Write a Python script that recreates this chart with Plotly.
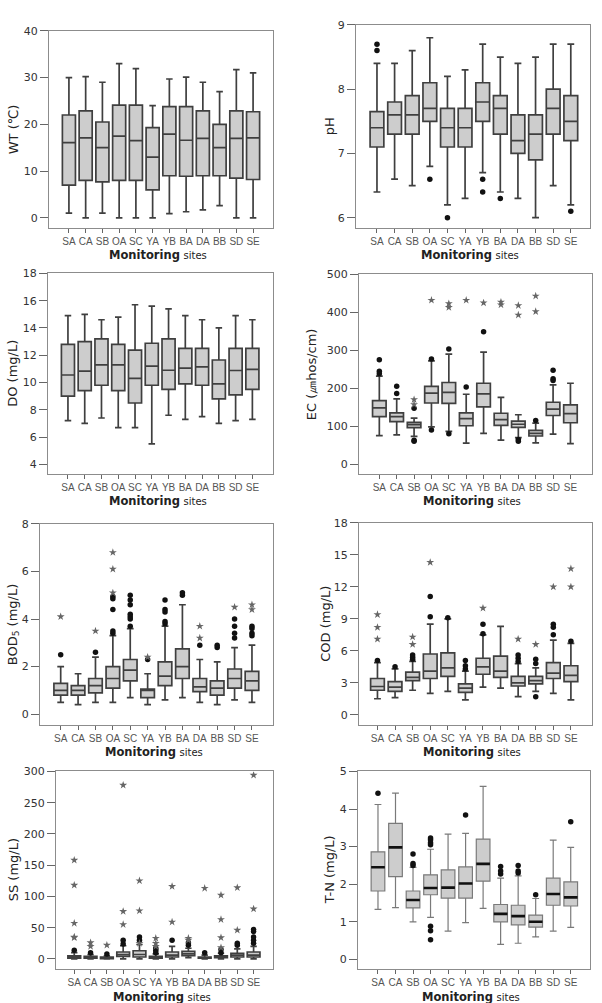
import plotly.graph_objects as go

sites = ["SA", "CA", "SB", "OA", "SC", "YA", "YB", "BA", "DA", "BB", "SD", "SE"]

# ---------------- WT ----------------
wt_low = [1.0, 0.0, 1.0, 0.0, 0.0, 0.0, 0.9, 1.3, 1.7, 2.6, 0.0, 0.0]
wt_q1 = [7.0, 8.0, 7.7, 8.0, 8.0, 6.0, 9.0, 8.9, 9.0, 9.0, 8.5, 8.2]
wt_med = [16.1, 17.1, 15.0, 17.5, 16.5, 13.0, 17.9, 16.6, 17.0, 15.0, 17.0, 17.1]
wt_q3 = [22.0, 22.9, 20.5, 24.1, 24.1, 19.3, 23.8, 23.8, 22.9, 20.0, 22.9, 22.7]
wt_up = [30.0, 30.2, 29.0, 33.0, 31.9, 24.0, 29.7, 30.1, 29.0, 27.0, 31.7, 31.0]
wt_dots = [[] for _ in sites]
wt_stars = [[] for _ in sites]

# ---------------- pH ----------------
ph_low = [6.4, 6.6, 6.5, 6.8, 6.2, 6.3, 6.7, 6.4, 6.3, 6.0, 6.5, 6.2]
ph_q1 = [7.1, 7.3, 7.3, 7.5, 7.1, 7.1, 7.5, 7.3, 7.0, 6.9, 7.3, 7.2]
ph_med = [7.4, 7.6, 7.6, 7.7, 7.4, 7.4, 7.8, 7.7, 7.2, 7.3, 7.7, 7.5]
ph_q3 = [7.65, 7.8, 7.9, 8.1, 7.7, 7.7, 8.1, 7.9, 7.6, 7.6, 8.0, 7.9]
ph_up = [8.4, 8.4, 8.6, 8.8, 8.2, 8.3, 8.7, 8.5, 8.4, 8.5, 8.7, 8.7]
ph_dots = [[8.7, 8.6], [], [], [6.6], [6.0], [], [6.6, 6.4], [6.3], [], [], [], [6.1]]
ph_stars = [[] for _ in sites]

# ---------------- DO ----------------
do_low = [7.2, 7.0, 7.4, 6.7, 6.7, 5.5, 7.6, 7.3, 7.5, 7.0, 7.2, 7.3]
do_q1 = [9.0, 9.4, 9.8, 9.4, 8.5, 9.8, 9.5, 9.9, 9.8, 8.8, 9.1, 9.5]
do_med = [10.55, 10.83, 11.3, 11.3, 10.3, 11.2, 10.9, 11.05, 11.14, 9.9, 10.88, 10.97]
do_q3 = [12.8, 13.0, 13.2, 12.8, 12.37, 12.88, 13.2, 12.5, 12.5, 11.65, 12.5, 12.5]
do_up = [14.9, 15.0, 14.6, 14.8, 15.7, 15.6, 15.4, 14.9, 14.6, 14.0, 14.9, 14.6]
do_dots = [[] for _ in sites]
do_stars = [[] for _ in sites]

# ---------------- EC ----------------
ec_low = [75, 77, 73, 98, 86, 55, 81, 63, 70, 56, 79, 54]
ec_q1 = [125, 112, 96, 161, 160, 101, 151, 102, 97, 74, 128, 109]
ec_med = [148, 125, 104, 187, 189, 120, 185, 117, 105, 81, 145, 133]
ec_q3 = [167, 135, 110, 205, 215, 135, 213, 134, 113, 89, 163, 156]
ec_up = [232, 172, 121, 272, 290, 184, 295, 176, 130, 108, 209, 213]
ec_dots = [[275, 245, 238], [205, 186], [147, 63, 60], [277, 90], [303, 80], [203],
           [349], [], [65, 60], [115], [247, 225, 220], []]
ec_stars = [[], [], [170, 157], [432], [423, 413], [432], [425], [427, 420],
            [418, 393], [443, 402], [], []]

# ---------------- BOD5 ----------------
bod_low = [0.5, 0.4, 0.5, 0.5, 0.7, 0.4, 0.6, 0.7, 0.5, 0.4, 0.6, 0.5]
bod_q1 = [0.8, 0.8, 0.9, 1.1, 1.4, 0.7, 1.2, 1.5, 0.95, 0.8, 1.1, 1.0]
bod_med = [1.0, 1.0, 1.2, 1.5, 1.85, 1.0, 1.6, 2.0, 1.15, 1.1, 1.5, 1.4]
bod_q3 = [1.3, 1.2, 1.5, 2.0, 2.3, 1.05, 2.2, 2.75, 1.5, 1.4, 1.9, 1.8]
bod_up = [2.0, 1.7, 2.4, 3.3, 3.6, 1.7, 3.7, 4.6, 2.3, 2.2, 2.8, 2.9]
bod_dots = [[2.5], [], [2.6], [4.95, 4.85, 4.4, 3.5, 3.4], [3.7, 4.0, 4.1, 4.2, 4.6, 4.8, 5.0],
            [2.3], [3.8, 3.9, 4.3, 4.4, 4.8], [5.0, 5.1], [2.9], [2.8, 2.9],
            [3.2, 3.4, 3.7, 4.0], [3.3, 3.4, 3.6, 3.7]]
bod_stars = [[4.1], [], [3.5], [6.8, 6.1, 5.1], [], [2.4], [], [], [3.2, 3.7], [], [4.5], [4.4, 4.6]]

# ---------------- COD ----------------
cod_low = [1.5, 1.6, 2.3, 2.0, 2.2, 1.4, 2.6, 2.5, 1.7, 2.2, 2.0, 1.4]
cod_q1 = [2.3, 2.2, 3.2, 3.4, 3.6, 2.1, 3.8, 3.5, 2.7, 2.9, 3.4, 3.1]
cod_med = [2.65, 2.6, 3.5, 4.1, 4.4, 2.5, 4.5, 4.1, 3.0, 3.2, 3.9, 3.7]
cod_q3 = [3.4, 3.1, 4.0, 5.7, 5.8, 2.9, 5.3, 5.5, 3.6, 3.6, 4.9, 4.6]
cod_up = [4.9, 4.3, 5.0, 8.5, 9.0, 4.1, 7.5, 8.3, 4.8, 4.4, 7.0, 6.7]
cod_dots = [[5.1], [4.5], [5.2, 5.4, 5.6], [9.2, 11.1], [9.1], [4.3, 4.6, 5.1],
            [7.6, 8.5], [], [5.0, 5.3, 5.6], [4.8, 5.2, 1.7], [7.5, 8.2, 8.5], [6.9]]
cod_stars = [[7.1, 8.2, 9.4], [], [6.6, 7.3], [14.3], [], [], [10.0], [], [7.1], [6.6], [12.0], [12.0, 13.7]]

# ---------------- SS ----------------
ss_low = [0, 0, 0, 0, 0, 0, 0, 2, 0, 0, 0, 0]
ss_q1 = [1, 1, 0.5, 4, 3, 1, 3, 5, 1, 2, 3, 3]
ss_med = [3, 2, 1.5, 7, 7, 2, 6, 8, 2, 3, 6, 6]
ss_q3 = [5, 4, 3, 11, 13, 4, 11, 12, 3, 5, 9, 11]
ss_up = [10, 7, 5, 21, 23, 8, 20, 17, 6, 9, 16, 20]
ss_dots = [[14], [10], [8], [24, 30], [30, 35], [10, 14, 17], [30], [22, 26], [10], [10, 15],
           [22, 25], [25, 30, 35, 44, 47]]
ss_stars = [[34, 35, 57, 118, 158], [20, 26], [22], [55, 76, 278], [25, 77, 125], [20, 25, 33],
            [59, 116], [30, 33], [113], [18, 34, 63, 102], [46, 114], [80, 294]]

# ---------------- T-N ----------------
tn_low = [1.33, 1.38, 1.0, 1.12, 0.75, 0.98, 1.36, 0.4, 0.43, 0.6, 0.75, 0.85]
tn_q1 = [1.82, 2.2, 1.37, 1.72, 1.63, 1.63, 2.08, 1.0, 0.92, 0.86, 1.44, 1.42]
tn_med = [2.45, 2.98, 1.58, 1.9, 1.91, 2.02, 2.54, 1.21, 1.15, 1.0, 1.74, 1.65]
tn_q3 = [2.86, 3.62, 1.82, 2.25, 2.38, 2.46, 3.2, 1.46, 1.44, 1.18, 2.16, 2.06]
tn_up = [4.12, 4.42, 2.45, 2.93, 3.33, 3.35, 4.6, 2.16, 2.22, 1.62, 3.17, 2.98]
tn_dots = [[4.42], [], [2.5, 2.55, 2.8], [3.05, 3.1, 3.18, 3.23, 0.88, 0.76, 0.52], [], [3.84],
           [], [2.27, 2.35, 2.47], [2.3, 2.35, 2.5], [1.72], [], [3.66]]
tn_stars = [[] for _ in sites]

W, H = 602, 1003
FONT = "DejaVu Sans"
TICKFONT = "Liberation Sans"

panels = [
    dict(title="WT (℃)", low=wt_low, q1=wt_q1, med=wt_med, q3=wt_q3, up=wt_up,
         dots=wt_dots, stars=wt_stars, box=(49, 273, 25, 223), xr=(-1.19, 12.19),
         yr=(-2.1, 40), ticks=[0, 10, 20, 30, 40], tx=13),
    dict(title="pH", low=ph_low, q1=ph_q1, med=ph_med, q3=ph_q3, up=ph_up,
         dots=ph_dots, stars=ph_stars, box=(356, 590, 19, 223), xr=(-1.19, 12.09),
         yr=(5.845, 9), ticks=[6, 7, 8, 9], tx=329),
    dict(title="DO (mg/L)", low=do_low, q1=do_q1, med=do_med, q3=do_q3, up=do_up,
         dots=do_dots, stars=do_stars, box=(48, 273, 269, 471), xr=(-1.19, 12.23),
         yr=(3.28, 18), ticks=[4, 6, 8, 10, 12, 14, 16, 18], tx=13),
    dict(title="EC (㎛hos/cm)", low=ec_low, q1=ec_q1, med=ec_med, q3=ec_q3, up=ec_up,
         dots=ec_dots, stars=ec_stars, box=(359, 592, 270, 471), xr=(-1.17, 12.24),
         yr=(-26.6, 500), ticks=[0, 100, 200, 300, 400, 500], tx=311),
    dict(title="BOD<sub>5</sub> (mg/L)", low=bod_low, q1=bod_q1, med=bod_med, q3=bod_q3, up=bod_up,
         dots=bod_dots, stars=bod_stars, box=(40, 273, 521, 723), xr=(-1.19, 12.21),
         yr=(-0.44, 8), ticks=[0, 2, 4, 6, 8], tx=13),
    dict(title="COD (mg/L)", low=cod_low, q1=cod_q1, med=cod_med, q3=cod_q3, up=cod_up,
         dots=cod_dots, stars=cod_stars, box=(359, 592, 520, 723), xr=(-1.05, 12.2),
         yr=(-0.93, 18), ticks=[0, 3, 6, 9, 12, 15, 18], tx=326),
    dict(title="SS (mg/L)", low=ss_low, q1=ss_q1, med=ss_med, q3=ss_q3, up=ss_up,
         dots=ss_dots, stars=ss_stars, box=(56, 273, 770, 969), xr=(-1.12, 12.19),
         yr=(-16.5, 300), ticks=[0, 50, 100, 150, 200, 250, 300], tx=13),
    dict(title="T-N (mg/L)", low=tn_low, q1=tn_q1, med=tn_med, q3=tn_q3, up=tn_up,
         dots=tn_dots, stars=tn_stars, box=(358, 590, 770, 969), xr=(-1.14, 12.1),
         yr=(-0.26, 5), ticks=[0, 1, 2, 3, 4, 5], tx=329),
]

fig = go.Figure()
layout = dict(width=W, height=H, autosize=False, margin=dict(l=0, r=0, t=0, b=0),
              plot_bgcolor="white", paper_bgcolor="white", showlegend=False,
              boxmode="overlay")
annotations = []
xs = list(range(len(sites)))
BW = 0.78

for n, p in enumerate(panels, start=1):
    sfx = "" if n == 1 else str(n)
    xa, ya = "x" + sfx, "y" + sfx
    l, r, t, b = p["box"]
    is_tn = n == 8
    last_row = n >= 7
    fig.add_trace(go.Box(
        x=xs, q1=p["q1"], median=p["med"], q3=p["q3"],
        lowerfence=p["low"], upperfence=p["up"],
        xaxis=xa, yaxis=ya, width=BW, whiskerwidth=0.5,
        fillcolor="#cdcdcd",
        line=dict(color="#7a7a7a" if is_tn else "#3f3f3f", width=1.2 if is_tn else 1.7),
        boxpoints=False, hoverinfo="skip"))
    if is_tn:
        mx, my = [], []
        for i, m in enumerate(p["med"]):
            mx += [i - BW / 2, i + BW / 2, None]
            my += [m, m, None]
        fig.add_trace(go.Scatter(x=mx, y=my, mode="lines", xaxis=xa, yaxis=ya,
                                 line=dict(color="#111111", width=2.6), hoverinfo="skip"))
    dx = [i for i, vals in enumerate(p["dots"]) for _ in vals]
    dy = [v for vals in p["dots"] for v in vals]
    if dx:
        fig.add_trace(go.Scatter(x=dx, y=dy, mode="markers", xaxis=xa, yaxis=ya,
                                 marker=dict(symbol="circle", size=5.5, color="#111111"),
                                 hoverinfo="skip"))
    sx = [i for i, vals in enumerate(p["stars"]) for _ in vals]
    sy = [v for vals in p["stars"] for v in vals]
    if sx:
        fig.add_trace(go.Scatter(x=sx, y=sy, mode="markers", xaxis=xa, yaxis=ya,
                                 marker=dict(symbol="star", size=6, color="#666666"),
                                 hoverinfo="skip"))

    layout["xaxis" + sfx] = dict(
        domain=[l / W, r / W], range=list(p["xr"]), anchor=ya,
        tickmode="array", tickvals=xs, ticktext=sites, tickangle=0,
        ticks="outside", ticklen=4, tickcolor="#666666", tickwidth=1,
        showline=True, mirror=True, linecolor="#8c8c8c", linewidth=1,
        showgrid=False, zeroline=False,
        tickfont=dict(family=TICKFONT, size=10, color="#555555"), fixedrange=True)
    layout["yaxis" + sfx] = dict(
        domain=[1 - b / H, 1 - t / H], range=list(p["yr"]), anchor=xa,
        tickmode="array", tickvals=p["ticks"],
        ticks="outside", ticklen=8, tickcolor="#666666", tickwidth=1,
        showline=True, mirror=True, linecolor="#8c8c8c", linewidth=1,
        showgrid=False, zeroline=False,
        tickfont=dict(family=FONT, size=11, color="#333333"), fixedrange=True)

    annotations.append(dict(
        text=p["title"], xref="paper", yref="paper", x=p["tx"] / W,
        y=1 - (t + b) / 2 / H, textangle=-90, showarrow=False,
        xanchor="center", yanchor="middle",
        font=dict(family=FONT, size=13, color="#222222")))
    ty = 997 if last_row else b + 27
    annotations.append(dict(
        text="<b>Monitoring</b> <span style='font-size:10px'>sites</span>",
        xref="paper", yref="paper", x=((l + r) / 2 - 3) / W, y=1 - ty / H,
        showarrow=False, xanchor="center", yanchor="middle",
        font=dict(family=FONT, size=11.5, color="#222222")))

layout["annotations"] = annotations
fig.update_layout(**layout)
fig.write_html("out.html")
